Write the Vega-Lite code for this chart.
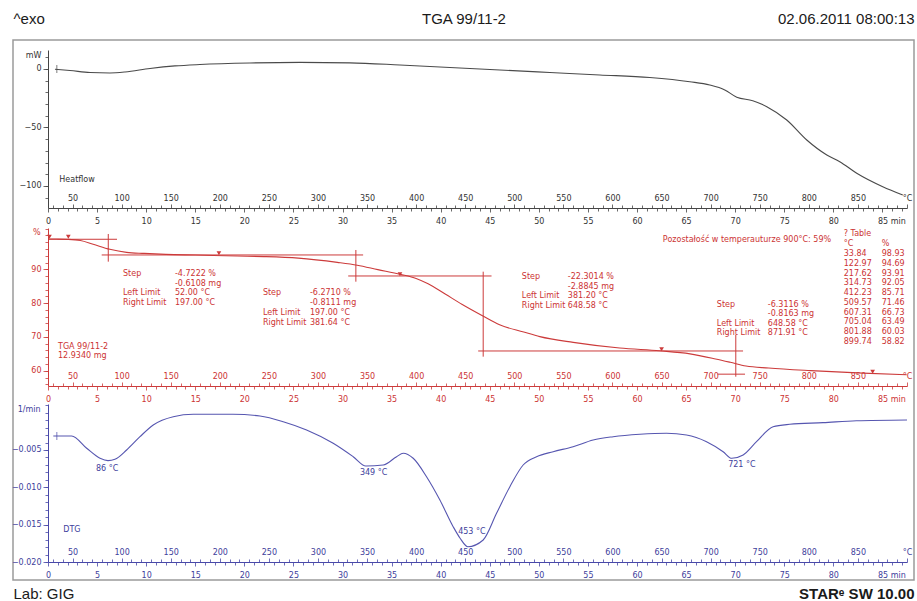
{
  "$schema": "https://vega.github.io/schema/vega-lite/v6.json",
  "width": 901,
  "height": 540,
  "autosize": {"type": "none"},
  "padding": {"left": 13, "top": 40, "right": 3, "bottom": 21},
  "config": {
    "view": {"stroke": "#9a9a9a", "strokeWidth": 1.5},
    "axis": {"grid": false, "labelFont": "DejaVu Sans", "labelFontSize": 8, "labelFlush": false, "labelOverlap": false, "labelBound": false, "titleFont": "Liberation Sans", "titleFontWeight": "normal", "titleFontSize": 15, "titleColor": "#1a1a1a", "tickWidth": 0.8, "domainWidth": 1},
    "text": {"font": "DejaVu Sans", "fontSize": 8},
    "line": {"interpolate": "monotone"}
  },
  "datasets": {
    "heat": [{"t":0.71,"v":-0.3},{"t":2.24,"v":-1.3},{"t":4.28,"v":-3.0},{"t":6.31,"v":-3.4},{"t":7.84,"v":-2.6},{"t":10.39,"v":0.4},{"t":12.93,"v":2.6},{"t":15.48,"v":3.8},{"t":20.57,"v":5.1},{"t":25.66,"v":5.6},{"t":30.75,"v":5.2},{"t":35.85,"v":3.4},{"t":40.94,"v":1.3},{"t":46.03,"v":-0.9},{"t":51.12,"v":-3.0},{"t":56.21,"v":-5.1},{"t":61.3,"v":-7.3},{"t":65.38,"v":-10.9},{"t":67.41,"v":-13.7},{"t":68.94,"v":-17.9},{"t":70.16,"v":-24.2},{"t":71.79,"v":-27.1},{"t":73.22,"v":-32.2},{"t":75.25,"v":-43.6},{"t":77.29,"v":-60.7},{"t":79.33,"v":-73.5},{"t":80.65,"v":-79.2},{"t":82.38,"v":-89.1},{"t":85.03,"v":-100.6},{"t":87.07,"v":-107.7}],
    "tga": [{"t":0.1,"p":98.95},{"t":0.88,"p":98.93},{"t":2.0,"p":98.85},{"t":3.3,"p":98.5},{"t":4.6,"p":97.4},{"t":6.3,"p":95.9},{"t":8.0,"p":95.0},{"t":9.8,"p":94.69},{"t":12.0,"p":94.4},{"t":15.0,"p":94.2},{"t":19.26,"p":93.91},{"t":22.0,"p":93.75},{"t":25.5,"p":93.3},{"t":29.47,"p":92.05},{"t":31.5,"p":91.2},{"t":33.6,"p":89.9},{"t":35.9,"p":88.5},{"t":37.5,"p":87.3},{"t":38.72,"p":85.71},{"t":40.5,"p":82.6},{"t":42.2,"p":79.6},{"t":44.3,"p":76.2},{"t":46.0,"p":73.6},{"t":48.46,"p":71.46},{"t":50.1,"p":70.1},{"t":53.5,"p":68.4},{"t":58.23,"p":66.73},{"t":62.3,"p":65.9},{"t":65.4,"p":65.0},{"t":68.0,"p":63.49},{"t":69.5,"p":62.5},{"t":71.1,"p":61.4},{"t":73.4,"p":60.8},{"t":77.69,"p":60.03},{"t":83.0,"p":59.3},{"t":87.47,"p":58.82}],
    "dtg": [{"t":0.54,"v":-0.00312},{"t":2.41,"v":-0.00312},{"t":3.94,"v":-0.00477},{"t":5.3,"v":-0.00611},{"t":6.11,"v":-0.00643},{"t":6.82,"v":-0.00625},{"t":8.01,"v":-0.005},{"t":9.37,"v":-0.00322},{"t":10.72,"v":-0.00165},{"t":12.76,"v":-0.00054},{"t":14.8,"v":-0.00022},{"t":18.84,"v":-0.00022},{"t":21.59,"v":-0.00045},{"t":23.96,"v":-0.00121},{"t":26.34,"v":-0.00232},{"t":29.05,"v":-0.0041},{"t":31.09,"v":-0.0059},{"t":32.38,"v":-0.00714},{"t":34.15,"v":-0.00701},{"t":35.51,"v":-0.0059},{"t":36.18,"v":-0.00544},{"t":37.2,"v":-0.00611},{"t":38.56,"v":-0.00858},{"t":39.92,"v":-0.0117},{"t":41.27,"v":-0.01527},{"t":41.96,"v":-0.01678},{"t":42.77,"v":-0.01795},{"t":44.33,"v":-0.01705},{"t":45.69,"v":-0.01348},{"t":47.05,"v":-0.00991},{"t":48.4,"v":-0.00701},{"t":49.77,"v":-0.0059},{"t":51.46,"v":-0.00523},{"t":53.49,"v":-0.00456},{"t":55.53,"v":-0.00366},{"t":57.57,"v":-0.00322},{"t":60.29,"v":-0.0029},{"t":63.0,"v":-0.00276},{"t":65.04,"v":-0.00299},{"t":67.08,"v":-0.00389},{"t":68.77,"v":-0.00523},{"t":69.65,"v":-0.00611},{"t":70.81,"v":-0.00567},{"t":72.17,"v":-0.00389},{"t":73.86,"v":-0.00188},{"t":75.56,"v":-0.00156},{"t":78.95,"v":-0.00134},{"t":82.35,"v":-0.00108},{"t":87.5,"v":-0.00098}],
    "steps": [{"t1":0.1,"t2":7.03,"p1":98.87,"p2":98.87},{"t1":6.14,"t2":6.14,"p1":100.43,"p2":92.25},{"t1":5.47,"t2":32.1,"p1":94.23,"p2":94.23},{"t1":31.36,"t2":31.36,"p1":95.7,"p2":86.33},{"t1":30.58,"t2":45.18,"p1":88.02,"p2":88.02},{"t1":44.33,"t2":44.33,"p1":89.29,"p2":64.17},{"t1":43.82,"t2":70.8,"p1":65.85,"p2":65.85},{"t1":70.06,"t2":70.06,"p1":70.58,"p2":58.25},{"t1":68.2,"t2":71.0,"p1":59.0,"p2":59.0}],
    "markers": [{"t":0.15,"p":99.6},{"t":2.07,"p":99.6},{"t":17.41,"p":94.73},{"t":35.85,"p":88.52},{"t":62.5,"p":66.35},{"t":84.0,"p":59.7}],
    "tgaText": [
      {"t":7.64,"p":88.61,"label":"Step"},{"t":12.93,"p":88.61,"label":"-4.7222 %"},{"t":12.93,"p":85.74,"label":"-0.6108 mg"},{"t":7.64,"p":82.88,"label":"Left Limit"},{"t":12.93,"p":82.88,"label":"52.00 °C"},{"t":7.64,"p":80.01,"label":"Right Limit"},{"t":12.93,"p":80.01,"label":"197.00 °C"},
      {"t":21.89,"p":83.0,"label":"Step"},{"t":26.68,"p":83.0,"label":"-6.2710 %"},{"t":26.68,"p":80.04,"label":"-0.8111 mg"},{"t":21.89,"p":77.09,"label":"Left Limit"},{"t":26.68,"p":77.09,"label":"197.00 °C"},{"t":21.89,"p":74.13,"label":"Right Limit"},{"t":26.68,"p":74.13,"label":"381.64 °C"},
      {"t":48.27,"p":87.64,"label":"Step"},{"t":52.95,"p":87.64,"label":"-22.3014 %"},{"t":52.95,"p":84.83,"label":"-2.8845 mg"},{"t":48.27,"p":82.02,"label":"Left Limit"},{"t":52.95,"p":82.02,"label":"381.20 °C"},{"t":48.27,"p":79.21,"label":"Right Limit"},{"t":52.95,"p":79.21,"label":"648.58 °C"},
      {"t":68.13,"p":79.45,"label":"Step"},{"t":73.32,"p":79.45,"label":"-6.3116 %"},{"t":73.32,"p":76.64,"label":"-0.8163 mg"},{"t":68.13,"p":73.83,"label":"Left Limit"},{"t":73.32,"p":73.83,"label":"648.58 °C"},{"t":68.13,"p":71.02,"label":"Right Limit"},{"t":73.32,"p":71.02,"label":"871.91 °C"},
      {"t":62.63,"p":98.66,"label":"Pozostałość w temperauturze 900°C: 59%"},
      {"t":81.06,"p":100.35,"label":"? Table"},{"t":81.06,"p":97.48,"label":"°C"},{"t":84.93,"p":97.48,"label":"%"},
      {"t":81.06,"p":94.52,"label":"33.84"},{"t":84.93,"p":94.52,"label":"98.93"},
      {"t":81.06,"p":91.63,"label":"122.97"},{"t":84.93,"p":91.63,"label":"94.69"},
      {"t":81.06,"p":88.74,"label":"217.62"},{"t":84.93,"p":88.74,"label":"93.91"},
      {"t":81.06,"p":85.85,"label":"314.73"},{"t":84.93,"p":85.85,"label":"92.05"},
      {"t":81.06,"p":82.96,"label":"412.23"},{"t":84.93,"p":82.96,"label":"85.71"},
      {"t":81.06,"p":80.07,"label":"509.57"},{"t":84.93,"p":80.07,"label":"71.46"},
      {"t":81.06,"p":77.18,"label":"607.31"},{"t":84.93,"p":77.18,"label":"66.73"},
      {"t":81.06,"p":74.29,"label":"705.04"},{"t":84.93,"p":74.29,"label":"63.49"},
      {"t":81.06,"p":71.4,"label":"801.88"},{"t":84.93,"p":71.4,"label":"60.03"},
      {"t":81.06,"p":68.5,"label":"899.74"},{"t":84.93,"p":68.5,"label":"58.82"},
      {"t":1.02,"p":67.03,"label":"TGA 99/11-2"},{"t":1.02,"p":64.37,"label":"12.9340 mg"}
    ],
    "dtgText": [{"t":4.89,"v":-0.00758,"label":"86 °C"},{"t":31.77,"v":-0.00812,"label":"349 °C"},{"t":41.78,"v":-0.01594,"label":"453 °C"},{"t":69.28,"v":-0.00701,"label":"721 °C"},{"t":1.56,"v":-0.01571,"label":"DTG"}]
  },
  "resolve": {"scale": {"y": "independent"}, "axis": {"x": "independent", "y": "independent"}},
  "layer": [
    {
      "data": {"name": "heat"},
      "mark": {"type": "line", "color": "#4a4a4a", "strokeWidth": 1.1},
      "encoding": {
        "x": {"field": "t", "type": "quantitative", "scale": {"domain": [0, 87.5], "range": [35, 894], "nice": false, "zero": false},
          "axis": {"orient": "bottom", "offset": -372, "title": null, "values": [0,1,2,3,4,5,6,7,8,9,10,11,12,13,14,15,16,17,18,19,20,21,22,23,24,25,26,27,28,29,30,31,32,33,34,35,36,37,38,39,40,41,42,43,44,45,46,47,48,49,50,51,52,53,54,55,56,57,58,59,60,61,62,63,64,65,66,67,68,69,70,71,72,73,74,75,76,77,78,79,80,81,82,83,84,85,86,87], "format": "d", "labelExpr": "datum.value % 5 == 0 ? (datum.value == 85 ? '85 min' : datum.label) : ''", "labelAlign": {"condition": {"test": "datum.value == 85", "value": "left"}, "value": "center"}, "labelOffset": {"condition": {"test": "datum.value == 85", "value": -5}, "value": 0}, "tickSize": {"condition": {"test": "datum.value % 5 == 0", "value": 4}, "value": 3}, "labelPadding": 5, "domainColor": "#444", "tickColor": "#444", "labelColor": "#333"}},
        "y": {"field": "v", "type": "quantitative", "scale": {"domain": [-118.8, 16.2], "range": [168, 10], "nice": false, "zero": false},
          "axis": {"orient": "left", "offset": -35, "values": [0, -50, -100], "tickSize": 5, "labelPadding": 2, "domainColor": "#444", "tickColor": "#444", "labelColor": "#333", "title": "mW", "titleAngle": 0, "titleX": -7, "titleY": 15, "titleAlign": "right", "titleBaseline": "middle", "titleFont": "DejaVu Sans", "titleFontSize": 8, "titleColor": "#333"}}
      }
    },
    {
      "data": {"values": [{"t": 1.15, "v": -94.8, "label": "Heatflow"}]},
      "mark": {"type": "text", "align": "left", "baseline": "middle", "color": "#333"},
      "encoding": {
        "x": {"field": "t", "type": "quantitative", "scale": {"domain": [0, 87.5], "range": [35, 894], "nice": false, "zero": false},
          "axis": {"orient": "top", "offset": -168, "domain": false, "values": [0.5,1.5,2.5,3.5,4.5,5.5,6.5,7.5,8.5,9.5,10.5,11.5,12.5,13.5,14.5,15.5,16.5,17.5,18.5,19.5,20.5,21.5,22.5,23.5,24.5,25.5,26.5,27.5,28.5,29.5,30.5,31.5,32.5,33.5,34.5,35.5,36.5,37.5,38.5,39.5,40.5,41.5,42.5,43.5,44.5,45.5,46.5,47.5,48.5,49.5,50.5,51.5,52.5,53.5,54.5,55.5,56.5,57.5,58.5,59.5,60.5,61.5,62.5,63.5,64.5,65.5,66.5,67.5,68.5,69.5,70.5,71.5,72.5,73.5,74.5,75.5,76.5,77.5,78.5,79.5,80.5,81.5,82.5,83.5,84.5,85.5,86.5,87.5], "labelExpr": "round(datum.value*10+25) % 50 == 0 ? (round(datum.value*10+25) >= 900 ? '°C' : '' + round(datum.value*10+25)) : ''", "tickSize": {"condition": {"test": "round(datum.value*10+25) % 50 == 0", "value": 4}, "value": 3}, "labelPadding": 2, "tickColor": "#444", "labelColor": "#333",
            "title": "^exo", "titleX": 0, "titleY": -190, "titleAlign": "left", "titleBaseline": "middle", "titleAnchor": "start"}},
        "y": {"field": "v", "type": "quantitative", "scale": {"domain": [-118.8, 16.2], "range": [168, 10], "nice": false, "zero": false},
          "axis": {"orient": "left", "offset": -35, "values": [10,0,-10,-20,-30,-40,-50,-60,-70,-80,-90,-100,-110], "labels": false, "domain": false, "tickSize": 3, "tickColor": "#444", "title": null}},
        "text": {"field": "label"}
      }
    },
    {
      "data": {"values": [{"t": 0.9, "v": 0}]},
      "mark": {"type": "tick", "orient": "vertical", "size": 8, "thickness": 1, "color": "#444"},
      "encoding": {
        "x": {"field": "t", "type": "quantitative", "scale": {"domain": [0, 87.5], "range": [35, 894], "nice": false, "zero": false},
          "axis": {"orient": "top", "offset": -168, "values": [], "labels": false, "ticks": false, "domain": false, "title": "02.06.2011 08:00:13", "titleX": 901, "titleY": -190, "titleAlign": "right", "titleBaseline": "middle", "titleAnchor": "end"}},
        "y": {"field": "v", "type": "quantitative", "scale": {"domain": [-118.8, 16.2], "range": [168, 10], "nice": false, "zero": false}, "axis": null}
      }
    },
    {
      "data": {"name": "tga"},
      "mark": {"type": "line", "color": "#cc3b3b", "strokeWidth": 1.1},
      "encoding": {
        "x": {"field": "t", "type": "quantitative", "scale": {"domain": [0, 87.5], "range": [35, 894], "nice": false, "zero": false},
          "axis": {"orient": "bottom", "offset": -194, "title": null, "values": [0,1,2,3,4,5,6,7,8,9,10,11,12,13,14,15,16,17,18,19,20,21,22,23,24,25,26,27,28,29,30,31,32,33,34,35,36,37,38,39,40,41,42,43,44,45,46,47,48,49,50,51,52,53,54,55,56,57,58,59,60,61,62,63,64,65,66,67,68,69,70,71,72,73,74,75,76,77,78,79,80,81,82,83,84,85,86,87], "format": "d", "labelExpr": "datum.value % 5 == 0 ? (datum.value == 85 ? '85 min' : datum.label) : ''", "labelAlign": {"condition": {"test": "datum.value == 85", "value": "left"}, "value": "center"}, "labelOffset": {"condition": {"test": "datum.value == 85", "value": -5}, "value": 0}, "tickSize": {"condition": {"test": "datum.value % 5 == 0", "value": 4}, "value": 3}, "labelPadding": 5, "domainColor": "#cc3b3b", "tickColor": "#cc3b3b", "labelColor": "#cc3333"}},
        "y": {"field": "p", "type": "quantitative", "scale": {"domain": [55.5, 102.2], "range": [346, 188], "nice": false, "zero": false},
          "axis": {"orient": "left", "offset": -35, "values": [60, 70, 80, 90], "tickSize": 5, "labelPadding": 2, "domainColor": "#cc3b3b", "tickColor": "#cc3b3b", "labelColor": "#cc3333", "title": "%", "titleAngle": 0, "titleX": -8, "titleY": 192, "titleAlign": "right", "titleBaseline": "middle", "titleFont": "DejaVu Sans", "titleFontSize": 8, "titleColor": "#cc3333"}}
      }
    },
    {
      "data": {"name": "steps"},
      "mark": {"type": "rule", "color": "#cc3b3b", "strokeWidth": 1},
      "encoding": {
        "x": {"field": "t1", "type": "quantitative", "scale": {"domain": [0, 87.5], "range": [35, 894], "nice": false, "zero": false},
          "axis": {"orient": "top", "offset": -346, "domain": false, "values": [0.5,1.5,2.5,3.5,4.5,5.5,6.5,7.5,8.5,9.5,10.5,11.5,12.5,13.5,14.5,15.5,16.5,17.5,18.5,19.5,20.5,21.5,22.5,23.5,24.5,25.5,26.5,27.5,28.5,29.5,30.5,31.5,32.5,33.5,34.5,35.5,36.5,37.5,38.5,39.5,40.5,41.5,42.5,43.5,44.5,45.5,46.5,47.5,48.5,49.5,50.5,51.5,52.5,53.5,54.5,55.5,56.5,57.5,58.5,59.5,60.5,61.5,62.5,63.5,64.5,65.5,66.5,67.5,68.5,69.5,70.5,71.5,72.5,73.5,74.5,75.5,76.5,77.5,78.5,79.5,80.5,81.5,82.5,83.5,84.5,85.5,86.5,87.5], "labelExpr": "round(datum.value*10+25) % 50 == 0 ? (round(datum.value*10+25) >= 900 ? '°C' : '' + round(datum.value*10+25)) : ''", "tickSize": {"condition": {"test": "round(datum.value*10+25) % 50 == 0", "value": 4}, "value": 3}, "labelPadding": 2, "tickColor": "#cc3b3b", "labelColor": "#cc3333",
            "title": "TGA 99/11-2", "titleX": 450.5, "titleY": -368, "titleAlign": "center", "titleBaseline": "middle"}},
        "x2": {"field": "t2"},
        "y": {"field": "p1", "type": "quantitative", "scale": {"domain": [55.5, 102.2], "range": [346, 188], "nice": false, "zero": false},
          "axis": {"orient": "left", "offset": -35, "values": [56,58,60,62,64,66,68,70,72,74,76,78,80,82,84,86,88,90,92,94,96,98,100,102], "labels": false, "domain": false, "tickSize": 3, "tickColor": "#cc3b3b", "title": null}},
        "y2": {"field": "p2"}
      }
    },
    {
      "data": {"name": "markers"},
      "mark": {"type": "point", "shape": "triangle-down", "filled": true, "size": 22, "color": "#cc3b3b", "opacity": 1},
      "encoding": {
        "x": {"field": "t", "type": "quantitative", "scale": {"domain": [0, 87.5], "range": [35, 894], "nice": false, "zero": false}, "axis": null},
        "y": {"field": "p", "type": "quantitative", "scale": {"domain": [55.5, 102.2], "range": [346, 188], "nice": false, "zero": false}, "axis": null}
      }
    },
    {
      "data": {"name": "tgaText"},
      "mark": {"type": "text", "align": "left", "baseline": "middle", "color": "#cc3333"},
      "encoding": {
        "x": {"field": "t", "type": "quantitative", "scale": {"domain": [0, 87.5], "range": [35, 894], "nice": false, "zero": false}, "axis": null},
        "y": {"field": "p", "type": "quantitative", "scale": {"domain": [55.5, 102.2], "range": [346, 188], "nice": false, "zero": false}, "axis": null},
        "text": {"field": "label"}
      }
    },
    {
      "data": {"name": "dtg"},
      "mark": {"type": "line", "color": "#5656b0", "strokeWidth": 1.1},
      "encoding": {
        "x": {"field": "t", "type": "quantitative", "scale": {"domain": [0, 87.5], "range": [35, 894], "nice": false, "zero": false},
          "axis": {"orient": "bottom", "offset": -18, "values": [0,1,2,3,4,5,6,7,8,9,10,11,12,13,14,15,16,17,18,19,20,21,22,23,24,25,26,27,28,29,30,31,32,33,34,35,36,37,38,39,40,41,42,43,44,45,46,47,48,49,50,51,52,53,54,55,56,57,58,59,60,61,62,63,64,65,66,67,68,69,70,71,72,73,74,75,76,77,78,79,80,81,82,83,84,85,86,87], "format": "d", "labelExpr": "datum.value % 5 == 0 ? (datum.value == 85 ? '85 min' : datum.label) : ''", "labelAlign": {"condition": {"test": "datum.value == 85", "value": "left"}, "value": "center"}, "labelOffset": {"condition": {"test": "datum.value == 85", "value": -5}, "value": 0}, "tickSize": {"condition": {"test": "datum.value % 5 == 0", "value": 4}, "value": 3}, "labelPadding": 5, "domainColor": "#4848a8", "tickColor": "#4848a8", "labelColor": "#40409c",
            "title": "Lab: GIG", "titleX": 0, "titleY": 31, "titleAlign": "left", "titleBaseline": "middle", "titleAnchor": "start"}},
        "y": {"field": "v", "type": "quantitative", "scale": {"domain": [-0.02, 0.00116], "range": [522, 364], "nice": false, "zero": false},
          "axis": {"orient": "left", "offset": -35, "values": [-0.005, -0.01, -0.015, -0.02], "format": ".3f", "tickSize": 5, "labelPadding": 2, "domainColor": "#4848a8", "tickColor": "#4848a8", "labelColor": "#40409c", "title": "1/min", "titleAngle": 0, "titleX": -8, "titleY": 369, "titleAlign": "right", "titleBaseline": "middle", "titleFont": "DejaVu Sans", "titleFontSize": 8, "titleColor": "#40409c"}}
      }
    },
    {
      "data": {"name": "dtgText"},
      "mark": {"type": "text", "align": "left", "baseline": "middle", "color": "#40409c"},
      "encoding": {
        "x": {"field": "t", "type": "quantitative", "scale": {"domain": [0, 87.5], "range": [35, 894], "nice": false, "zero": false},
          "axis": {"orient": "top", "offset": -522, "domain": false, "values": [0.5,1.5,2.5,3.5,4.5,5.5,6.5,7.5,8.5,9.5,10.5,11.5,12.5,13.5,14.5,15.5,16.5,17.5,18.5,19.5,20.5,21.5,22.5,23.5,24.5,25.5,26.5,27.5,28.5,29.5,30.5,31.5,32.5,33.5,34.5,35.5,36.5,37.5,38.5,39.5,40.5,41.5,42.5,43.5,44.5,45.5,46.5,47.5,48.5,49.5,50.5,51.5,52.5,53.5,54.5,55.5,56.5,57.5,58.5,59.5,60.5,61.5,62.5,63.5,64.5,65.5,66.5,67.5,68.5,69.5,70.5,71.5,72.5,73.5,74.5,75.5,76.5,77.5,78.5,79.5,80.5,81.5,82.5,83.5,84.5,85.5,86.5,87.5], "labelExpr": "round(datum.value*10+25) % 50 == 0 ? (round(datum.value*10+25) >= 900 ? '°C' : '' + round(datum.value*10+25)) : ''", "tickSize": {"condition": {"test": "round(datum.value*10+25) % 50 == 0", "value": 4}, "value": 3}, "labelPadding": 2, "tickColor": "#4848a8", "labelColor": "#40409c", "title": null}},
        "y": {"field": "v", "type": "quantitative", "scale": {"domain": [-0.02, 0.00116], "range": [522, 364], "nice": false, "zero": false},
          "axis": {"orient": "left", "offset": -35, "values": [-0.02,-0.019,-0.018,-0.017,-0.016,-0.015,-0.014,-0.013,-0.012,-0.011,-0.01,-0.009,-0.008,-0.007,-0.006,-0.005,-0.004,-0.003,-0.002,-0.001,0,0.001], "labels": false, "domain": false, "tickSize": 3, "tickColor": "#4848a8", "title": null}},
        "text": {"field": "label"}
      }
    },
    {
      "data": {"values": [{"t": 0.9, "v": -0.00312}]},
      "mark": {"type": "tick", "orient": "vertical", "size": 8, "thickness": 1, "color": "#4848a8"},
      "encoding": {
        "x": {"field": "t", "type": "quantitative", "scale": {"domain": [0, 87.5], "range": [35, 894], "nice": false, "zero": false},
          "axis": {"orient": "bottom", "offset": -18, "values": [], "labels": false, "ticks": false, "domain": false, "title": "STARᵉ SW 10.00", "titleX": 901, "titleY": 31, "titleAlign": "right", "titleBaseline": "middle", "titleAnchor": "end", "titleFontWeight": "bold"}},
        "y": {"field": "v", "type": "quantitative", "scale": {"domain": [-0.02, 0.00116], "range": [522, 364], "nice": false, "zero": false}, "axis": null}
      }
    }
  ]
}
